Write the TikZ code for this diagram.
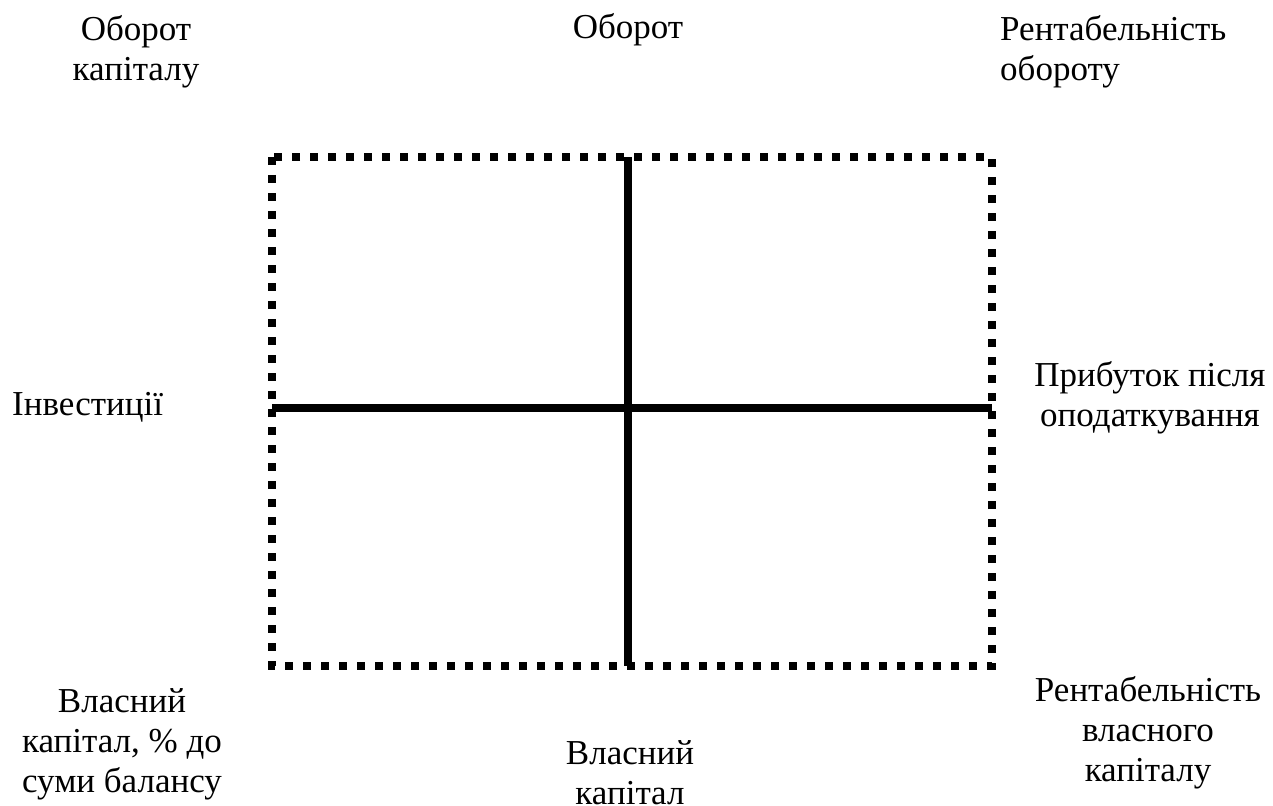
\documentclass[tikz,border=0pt]{standalone}
\usepackage{fontspec}
\setmainfont{Liberation Serif}
\begin{document}
\begin{tikzpicture}[x=1pt,y=-1pt,
  lbl/.style={font=\fontsize{35}{40}\selectfont, inner sep=0pt, align=center, anchor=base},
  lblw/.style={font=\fontsize{35}{40}\selectfont, inner sep=0pt, align=left, anchor=base west},
  dotframe/.style={line width=8pt, dash pattern=on 8pt off 10pt},
  axis/.style={line width=7.5pt}]
\useasboundingbox (0,0) rectangle (1273,805);
\coordinate (tl) at (272,157);
\coordinate (br) at (992,666);
\coordinate (vt) at (628,157);
\coordinate (vb) at (628,666);
\coordinate (hl) at (272,408);
\coordinate (hr) at (992,408);
\draw[dotframe] (tl) rectangle (br);
\draw[axis] (vt) -- (vb);
\draw[axis] (hl) -- (hr);
% anchor=base of a multi-line node is the baseline of its last line
\node[lbl] (oc) at (136,81) {Оборот\\капіталу};
\node[lbl] (ob) at (628,39) {Оборот};
\node[lblw] (ro) at (1000,81) {Рентабельність\\обороту};
\node[lbl, anchor=base west] (inv) at (12,415) {Інвестиції};
\node[lbl] (pp) at (1150,426) {Прибуток після\\оподаткування};
\node[lbl] (vk) at (122,792) {Власний\\капітал, \% до\\суми балансу};
\node[lbl] (vk2) at (630,804) {Власний\\капітал};
\node[lbl] (rvk) at (1148,781) {Рентабельність\\власного\\капіталу};
\end{tikzpicture}
\end{document}
